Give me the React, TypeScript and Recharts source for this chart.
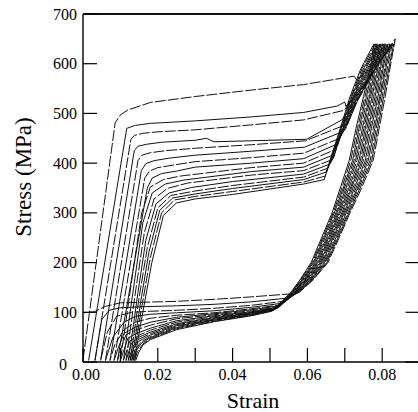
import React from 'react';
import { LineChart, Line, XAxis, YAxis, ReferenceLine } from 'recharts';

type Pt = [number, number];

// strain ticks and labels
const xTicks = [0, 0.01, 0.02, 0.03, 0.04, 0.05, 0.06, 0.07, 0.08, 0.09];
const xTickLabels = ['0.00', '', '0.02', '', '0.04', '', '0.06', '', '0.08', ''];
// stress ticks
const yTicks = [0, 100, 200, 300, 400, 500, 600, 700];
const yTickLabels = ['0', '100', '200', '300', '400', '500', '600', '700'];

// loading / unloading cycles: [strain, stress (MPa)]
const loop01: Pt[] = [[0,4],[0.0086,481],[0.0100,497],[0.0120,507],[0.018,522],[0.03,534],[0.045,547],[0.059,558],[0.0725,575],[0.0732,567],[0.0770,590],[0.0805,615],[0.0835,650],
  [0.0823,600],[0.0808,534],[0.0792,470],[0.0776,406],[0.0745,350],[0.0714,300],[0.0685,250],[0.0655,200],[0.0615,165],[0.0578,140],[0.0555,137],[0.045,131],[0.035,126],[0.025,122],[0.015,120],[0.010,119],[0.006,112],[0.003,101],[0,99]];
const loop02: Pt[] = [[0.0015,3],[0.0117,470],[0.0140,476],[0.018,480],[0.03,485],[0.045,493],[0.059,502],[0.068,515],[0.0700,523],[0.0703,514],[0.0749,555],[0.0790,600],[0.0831,640],
  [0.0820,600],[0.0804,534],[0.0788,470],[0.0772,406],[0.0741,350],[0.0711,300],[0.0682,250],[0.0652,200],[0.0613,165],[0.0577,140],[0.054,128],[0.045,121],[0.035,116],[0.025,113],[0.015,111],[0.010,109],[0.007,104],[0.005,85],[0.0032,3]];
const loop03: Pt[] = [[0.0032,3],[0.0128,448],[0.0138,456],[0.016,460],[0.020,463],[0.03,467],[0.045,477],[0.059,487],[0.0697,506],[0.0747,550],[0.0786,595],[0.0827,640],
  [0.0816,600],[0.0800,534],[0.0784,470],[0.0768,406],[0.0737,350],[0.0708,300],[0.0679,250],[0.0649,200],[0.0610,165],[0.0575,140],[0.0535,122],[0.045,114],[0.035,108],[0.025,104],[0.018,102],[0.013,100],[0.009,92],[0.0065,60],[0.0047,3]];
const loop04: Pt[] = [[0.0047,3],[0.0137,425],[0.0147,434],[0.017,438],[0.021,442],[0.030,446],[0.033,450],[0.035,443],[0.045,445],[0.0598,448],[0.0692,487],[0.0744,540],[0.0783,592],[0.0824,640],
  [0.0812,600],[0.0796,534],[0.0780,470],[0.0763,406],[0.0734,350],[0.0704,300],[0.0676,250],[0.0646,200],[0.0608,165],[0.0574,140],[0.053,118],[0.045,110],[0.035,103],[0.025,99],[0.018,96],[0.014,92],[0.011,80],[0.008,50],[0.0060,3]];
const loop05: Pt[] = [[0.0060,3],[0.0147,405],[0.0158,416],[0.018,421],[0.022,425],[0.03,430],[0.045,437],[0.0595,445],[0.0688,473],[0.0741,534],[0.0780,590],[0.0820,640],
  [0.0809,600],[0.0793,534],[0.0776,470],[0.0759,406],[0.0730,350],[0.0701,300],[0.0672,250],[0.0643,200],[0.0606,165],[0.0572,140],[0.053,115],[0.045,107],[0.035,99],[0.025,94],[0.018,88],[0.014,80],[0.011,65],[0.0085,35],[0.0072,3]];
const loop06: Pt[] = [[0.0072,3],[0.0156,385],[0.0168,399],[0.019,405],[0.023,410],[0.03,416],[0.045,424],[0.0592,432],[0.0683,460],[0.0705,475],[0.0739,534],[0.0776,590],[0.0816,640],
  [0.0805,600],[0.0789,534],[0.0771,470],[0.0755,406],[0.0726,350],[0.0698,300],[0.0669,250],[0.0640,200],[0.0603,165],[0.0571,140],[0.0525,113],[0.045,105],[0.035,97],[0.025,90],[0.018,80],[0.014,70],[0.011,58],[0.0095,30],[0.0083,3]];
const loop07: Pt[] = [[0.0083,3],[0.0165,370],[0.0178,384],[0.020,391],[0.024,396],[0.03,403],[0.045,411],[0.059,420],[0.068,448],[0.0703,470],[0.0737,534],[0.0773,590],[0.0812,640],
  [0.0802,600],[0.0785,534],[0.0767,470],[0.0750,406],[0.0722,350],[0.0695,300],[0.0666,250],[0.0637,200],[0.0601,165],[0.0569,140],[0.0525,111],[0.045,103],[0.035,95],[0.025,87],[0.018,74],[0.014,64],[0.0115,55],[0.0103,30],[0.0092,3]];
const loop08: Pt[] = [[0.0092,3],[0.0172,350],[0.0185,370],[0.021,379],[0.025,384],[0.03,392],[0.045,400],[0.059,409],[0.0675,437],[0.0701,470],[0.0734,534],[0.0770,590],[0.0808,640],
  [0.0798,600],[0.0781,534],[0.0763,470],[0.0746,406],[0.0718,350],[0.0692,300],[0.0663,250],[0.0634,200],[0.0599,165],[0.0568,140],[0.052,110],[0.045,101],[0.035,93],[0.025,83],[0.018,68],[0.0145,58],[0.012,48],[0.0100,3]];
const loop09: Pt[] = [[0.0100,3],[0.0120,110],[0.0137,200],[0.0157,300],[0.018,352],[0.0215,367],[0.026,374],[0.045,391],[0.059,400],[0.067,426],[0.0700,470],[0.0732,534],[0.0766,590],[0.0805,640],
  [0.0795,600],[0.0777,534],[0.0759,470],[0.0742,406],[0.0715,350],[0.0688,300],[0.0660,250],[0.0631,200],[0.0596,165],[0.0566,140],[0.052,109],[0.045,100],[0.035,91],[0.025,80],[0.018,64],[0.015,54],[0.0125,42],[0.0108,3]];
const loop10: Pt[] = [[0.0108,3],[0.0125,95],[0.0140,175],[0.016,280],[0.0185,340],[0.022,358],[0.027,366],[0.045,383],[0.059,392],[0.0667,416],[0.0698,470],[0.0729,534],[0.0763,590],[0.0801,640],
  [0.0791,600],[0.0773,534],[0.0755,470],[0.0738,406],[0.0711,350],[0.0685,300],[0.0657,250],[0.0628,200],[0.0594,165],[0.0565,140],[0.052,108],[0.045,99],[0.035,89],[0.025,77],[0.018,60],[0.015,50],[0.013,38],[0.0115,3]];
const loop11: Pt[] = [[0.0115,3],[0.0130,85],[0.0143,155],[0.0164,260],[0.019,328],[0.0225,349],[0.028,360],[0.045,376],[0.059,385],[0.0663,406],[0.0670,412],[0.0696,470],[0.0726,534],[0.0760,590],[0.0797,640],
  [0.0788,600],[0.0769,534],[0.0751,470],[0.0733,406],[0.0707,350],[0.0682,300],[0.0654,250],[0.0625,200],[0.0592,165],[0.0563,140],[0.0515,107],[0.045,98],[0.035,88],[0.025,75],[0.018,57],[0.015,46],[0.0132,30],[0.0121,3]];
const loop12: Pt[] = [[0.0121,3],[0.0135,75],[0.0147,140],[0.0168,245],[0.0195,318],[0.023,340],[0.029,351],[0.04,363],[0.059,378],[0.066,398],[0.0669,410],[0.0695,470],[0.0724,534],[0.0756,590],[0.0793,640],
  [0.0784,600],[0.0766,534],[0.0747,470],[0.0729,406],[0.0703,350],[0.0679,300],[0.0651,250],[0.0622,200],[0.0589,165],[0.0562,140],[0.0515,106],[0.045,97],[0.035,86],[0.025,73],[0.018,54],[0.015,42],[0.0135,28],[0.0126,3]];
const loop13: Pt[] = [[0.0126,3],[0.0139,70],[0.015,130],[0.0172,230],[0.020,310],[0.0235,335],[0.030,344],[0.04,355],[0.059,372],[0.0655,390],[0.0667,410],[0.0693,470],[0.0722,534],[0.0753,590],[0.0789,640],
  [0.0781,600],[0.0762,534],[0.0742,470],[0.0725,406],[0.0699,350],[0.0676,300],[0.0647,250],[0.0619,200],[0.0587,165],[0.0560,140],[0.051,105],[0.045,96],[0.035,85],[0.025,71],[0.018,51],[0.0155,40],[0.014,25],[0.0130,3]];
const loop14: Pt[] = [[0.0130,3],[0.0142,60],[0.0154,120],[0.0176,220],[0.0205,305],[0.024,330],[0.030,338],[0.04,349],[0.059,367],[0.065,382],[0.0665,410],[0.0691,470],[0.0719,534],[0.0750,590],[0.0786,640],
  [0.0777,600],[0.0758,534],[0.0738,470],[0.0721,406],[0.0696,350],[0.0672,300],[0.0644,250],[0.0616,200],[0.0585,165],[0.0559,140],[0.051,104],[0.045,95],[0.035,84],[0.025,69],[0.018,49],[0.0155,37],[0.0142,22],[0.0134,3]];
const loop15: Pt[] = [[0.0134,3],[0.0145,55],[0.0157,110],[0.018,210],[0.021,300],[0.0245,326],[0.030,333],[0.04,343],[0.059,362],[0.0648,374],[0.0664,410],[0.0690,470],[0.0717,534],[0.0746,590],[0.0782,640],
  [0.0774,600],[0.0754,534],[0.0734,470],[0.0716,406],[0.0692,350],[0.0669,300],[0.0641,250],[0.0613,200],[0.0582,165],[0.0557,140],[0.0505,103],[0.045,94],[0.035,82],[0.025,67],[0.018,47],[0.016,36],[0.0145,20],[0.0138,3]];
const loop16: Pt[] = [[0.0138,3],[0.0148,50],[0.016,100],[0.0184,200],[0.0215,295],[0.025,320],[0.030,328],[0.04,337],[0.059,358],[0.0645,367],[0.0662,410],[0.0688,470],[0.0714,534],[0.0743,590],[0.0778,640],
  [0.0770,600],[0.0750,534],[0.0730,470],[0.0712,406],[0.0688,350],[0.0666,300],[0.0638,250],[0.0610,200],[0.0580,165],[0.0556,140],[0.0505,102],[0.045,93],[0.035,81],[0.025,65],[0.018,45],[0.016,34],[0.0148,18],[0.0141,3]];

const loops: Pt[][] = [loop01, loop02, loop03, loop04, loop05, loop06, loop07, loop08,
  loop09, loop10, loop11, loop12, loop13, loop14, loop15, loop16];
const loopData = loops.map((l) => l.map(([x, y]) => ({ x, y })));

const FONT = '"Liberation Serif", "Times New Roman", Times, serif';
const TICK_LEN = 14;
const textStyle = { fontFamily: FONT };

const BottomTick = (props: any) => {
  const { x, y, payload } = props;
  const i = xTicks.indexOf(payload.value);
  const label = i >= 0 ? xTickLabels[i] : '';
  return (
    <g>
      <line x1={x} y1={y} x2={x} y2={y - TICK_LEN} stroke="#000" strokeWidth={1.2} />
      {label ? (
        <text x={x + (payload.value === 0 ? 3 : 0)} y={y + 18} textAnchor="middle" style={textStyle} fontSize={16} fill="#000">
          {label}
        </text>
      ) : null}
    </g>
  );
};

const TopTick = (props: any) => {
  const { x, y } = props;
  return <line x1={x} y1={y} x2={x} y2={y + TICK_LEN} stroke="#000" strokeWidth={1.2} />;
};

const LeftTick = (props: any) => {
  const { x, y, payload } = props;
  const i = yTicks.indexOf(payload.value);
  const label = i >= 0 ? yTickLabels[i] : '';
  const isZero = payload.value === 0;
  return (
    <g>
      <line x1={x} y1={y} x2={x + TICK_LEN} y2={y} stroke="#000" strokeWidth={1.2} />
      <text x={isZero ? x - 16 : x - 6} y={isZero ? y + 2 : y} dy="0.35em" textAnchor="end" style={textStyle} fontSize={16} fill="#000">
        {label}
      </text>
    </g>
  );
};

const RightTick = (props: any) => {
  const { x, y } = props;
  return <line x1={x} y1={y} x2={x - TICK_LEN} y2={y} stroke="#000" strokeWidth={1.2} />;
};

const XTitle = () => (
  <text x={253} y={408} textAnchor="middle" style={textStyle} fontSize={22} fill="#000">Strain</text>
);
const YTitle = () => (
  <text x={31} y={177} transform="rotate(-90 31 177)" textAnchor="middle" style={textStyle} fontSize={23} fill="#000">Stress (MPa)</text>
);

export default function App() {
  return (
    <div style={{ position: 'absolute', left: 0, top: 0, width: 418, height: 412, overflow: 'hidden', background: '#fff', fontFamily: FONT }}>
      <LineChart width={430} height={412} margin={{ top: 13, right: 9.4, left: 0, bottom: 0 }} style={{ fontFamily: FONT }}>
        <XAxis
          dataKey="x"
          type="number"
          domain={[0, 0.09]}
          ticks={xTicks}
          allowDataOverflow
          height={50}
          tickSize={0}
          tickMargin={0}
          tickLine={false}
          axisLine={{ stroke: '#000', strokeWidth: 1.4 }}
          tick={<BottomTick />}
          interval={0}
          label={<XTitle />}
        />
        <XAxis
          xAxisId="top"
          orientation="top"
          type="number"
          domain={[0, 0.09]}
          ticks={xTicks}
          allowDataOverflow
          height={1}
          tickSize={0}
          tickMargin={0}
          tickLine={false}
          axisLine={{ stroke: '#000', strokeWidth: 1.4 }}
          tick={<TopTick />}
          interval={0}
        />
        <YAxis
          type="number"
          domain={[0, 700]}
          ticks={yTicks}
          allowDataOverflow
          width={83}
          tickSize={0}
          tickMargin={0}
          tickLine={false}
          axisLine={{ stroke: '#000', strokeWidth: 1.4 }}
          tick={<LeftTick />}
          interval={0}
          label={<YTitle />}
        />
        <YAxis
          yAxisId="right"
          orientation="right"
          type="number"
          domain={[0, 700]}
          ticks={yTicks}
          allowDataOverflow
          width={1}
          tickSize={0}
          tickMargin={0}
          tickLine={false}
          axisLine={{ stroke: '#000', strokeWidth: 1.4 }}
          tick={<RightTick />}
          interval={0}
        />
        <ReferenceLine y={700} stroke="#000" strokeWidth={1.4} ifOverflow="visible" />
        {loopData.map((d, i) => (
          <Line
            key={i}
            data={d}
            dataKey="y"
            type="linear"
            stroke="#111"
            strokeWidth={1}
            strokeDasharray={i % 2 === 0 ? '11 2' : undefined}
            dot={false}
            activeDot={false}
            isAnimationActive={false}
          />
        ))}
      </LineChart>
    </div>
  );
}
